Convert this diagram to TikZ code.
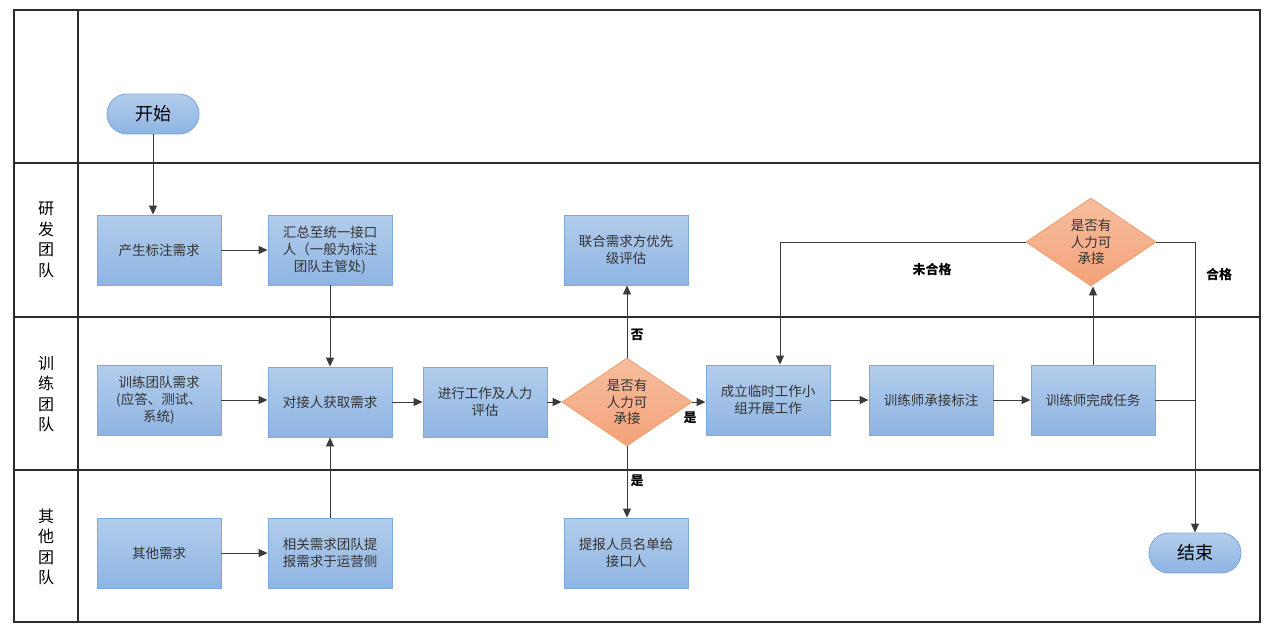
\documentclass[tikz,border=0pt]{standalone}
\usepackage{fontspec}
\setmainfont{Noto Sans CJK SC}
\usetikzlibrary{arrows.meta,shapes.geometric}
\definecolor{boxtop}{HTML}{B3CDEB}
\definecolor{boxbot}{HTML}{8EB4E3}
\definecolor{boxline}{HTML}{7EA9DC}
\definecolor{dtop}{HTML}{F6BE9E}
\definecolor{dbot}{HTML}{F4A27A}
\definecolor{dline}{HTML}{F2A06E}
\definecolor{txt}{HTML}{333333}
\definecolor{frame}{HTML}{2B2B2B}
\definecolor{conn}{HTML}{3A3A3A}
\tikzset{
  procbox/.style={rectangle, draw=boxline, line width=0.9pt, top color=boxtop, bottom color=boxbot,
    minimum width=124pt, minimum height=70pt, inner sep=2pt, align=center, text=txt,
    font=\fontsize{13.5}{16.7}\selectfont},
  decide/.style={diamond, draw=dline, line width=0.9pt, top color=dtop, bottom color=dbot,
    minimum width=130pt, minimum height=88pt, inner sep=0pt, aspect=1.48, align=center, text=txt,
    font=\fontsize{13.5}{16.7}\selectfont},
  pill/.style={rectangle, rounded corners=20pt, draw=boxline, line width=0.9pt, top color=boxtop, bottom color=boxbot,
    minimum width=92pt, minimum height=40pt, text=black, font=\fontsize{18}{20}\selectfont},
  lanelbl/.style={align=center, text=black, font=\fontsize{16}{20.5}\selectfont},
  conline/.style={draw=conn, line width=0.9pt},
  arr/.style={conline, -{Triangle[length=9pt,width=8pt]}},
  edgelbl/.style={text=black, font=\fontsize{13}{15}\selectfont\bfseries},
  laneline/.style={draw=frame, line width=1.4pt}
}
\begin{document}
\begin{tikzpicture}[x=1pt,y=-1pt]
\useasboundingbox (0,0) rectangle (1269,630);
% frame
\draw[laneline] (14,10) rectangle (1260,622);
\draw[laneline] (78,10) -- (78,622);
\draw[laneline] (14,163) -- (1260,163);
\draw[laneline] (14,317) -- (1260,317);
\draw[laneline] (14,470) -- (1260,470);
% lane labels
\node[lanelbl] (l1) at (46,240) {研\\发\\团\\队};
\node[lanelbl] (l2) at (46,394) {训\\练\\团\\队};
\node[lanelbl] (l3) at (46,547) {其\\他\\团\\队};
% nodes
\node[pill] (start) at (153,114) {开始};
\node[procbox] (chansheng) at (159,250) {产生标注需求};
\node[procbox] (huizong) at (330,250) {汇总至统一接口\\人（一般为标注\\团队主管处)};
\node[procbox] (lianhe) at (626,250) {联合需求方优先\\级评估};
\node[decide] (d2) at (1091,242) {是否有\\人力可\\承接};
\node[procbox] (xunlian) at (159,400) {训练团队需求\\(应答、测试、\\系统)};
\node[procbox] (duijie) at (330,402) {对接人获取需求};
\node[procbox] (jinxing) at (485,402) {进行工作及人力\\评估};
\node[decide] (d1) at (627,402) {是否有\\人力可\\承接};
\node[procbox] (chengli) at (768,400) {成立临时工作小\\组开展工作};
\node[procbox] (chengjie) at (931,400) {训练师承接标注};
\node[procbox] (wancheng) at (1093,400) {训练师完成任务};
\node[procbox] (qita) at (159,553) {其他需求};
\node[procbox] (xiangguan) at (330,553) {相关需求团队提\\报需求于运营侧};
\node[procbox] (tibao) at (626,553) {提报人员名单给\\接口人};
\node[pill] (end) at (1195,553) {结束};
% connectors
\draw[arr] (start.south) -- (start.south |- chansheng.north);
\draw[arr] (chansheng) -- (huizong);
\draw[arr] (huizong) -- (duijie);
\draw[arr] (xunlian.east) -- (xunlian.east -| duijie.west);
\draw[arr] (xiangguan) -- (duijie);
\draw[arr] (qita) -- (xiangguan);
\draw[arr] (duijie) -- (jinxing);
\draw[arr] (jinxing) -- (d1);
\draw[arr] (d1.north) -- (d1.north |- lianhe.south);
\draw[arr] (d1.east) -- (d1.east -| chengli.west);
\draw[arr] (d1.south) -- (d1.south |- tibao.north);
\draw[arr] (chengli) -- (chengjie);
\draw[arr] (chengjie) -- (wancheng);
\draw[arr] (wancheng.north) -- (wancheng.north |- d2.south);
\draw[arr] (d2.west) -| ([xshift=12pt]chengli.north);
\draw[arr] (d2.east) -| (end.north);
\draw[conline] (wancheng.east) -- (wancheng.east -| end.north);
% edge labels
\node[edgelbl] (lfou) at (637,335) {否};
\node[edgelbl] (lshi1) at (690,418) {是};
\node[edgelbl] (lshi2) at (637,481) {是};
\node[edgelbl] (lwei) at (932,270) {未合格};
\node[edgelbl] (lhe) at (1219,275) {合格};
\end{tikzpicture}
\end{document}
